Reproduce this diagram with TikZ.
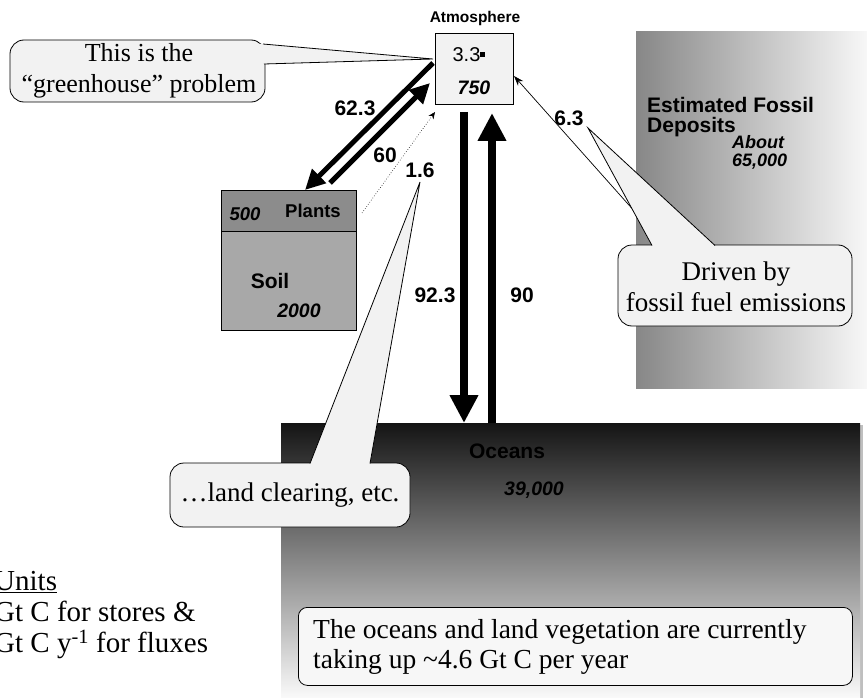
\documentclass[tikz,border=0pt]{standalone}
\usepackage{fontspec}
\setmainfont{Liberation Serif}
\setsansfont{Liberation Sans}
\usetikzlibrary{arrows.meta,shadings}

\definecolor{callfill}{gray}{0.95}

\tikzset{
  lbl/.style={font=\sffamily\bfseries\fontsize{21}{22}\selectfont, inner sep=0pt},
  store/.style={font=\sffamily\bfseries\itshape\fontsize{19.5}{22}\selectfont, inner sep=0pt},
  note/.style={font=\fontsize{27}{31}\selectfont, align=center, inner sep=0pt},
  callbox/.style={draw=black, line width=0.8pt, fill=callfill, rounded corners=14pt},
  bigflux/.style={line width=5pt, -{Triangle[length=20pt,width=19pt]}},
  seaflux/.style={line width=8pt, -{Triangle[length=28pt,width=27pt]}},
  thinflux/.style={line width=0.7pt, -{Stealth[length=10pt,width=7pt]}},
}

\begin{document}
\begin{tikzpicture}[x=1pt,y=-1pt]
\useasboundingbox (0,0) rectangle (867,698);

% fossil deposit reservoir
\shade[left color=black!47, right color=black!3] (636,32) rectangle (867,388);
% ocean reservoir
\fill[black!25] (860,425) rectangle (863,698);
\shade[top color=black!92, middle color=black!42, bottom color=black!2] (281,423) rectangle (860,698);

% atmosphere store
\node[draw, line width=0.8pt, fill=black!5, minimum width=78pt, minimum height=71pt, inner sep=0pt] (atm) at (474,68.5) {};
\node[lbl, font=\sffamily\bfseries\fontsize{15.5}{17}\selectfont] (atmname) at (475,18) {Atmosphere};
\node[lbl, font=\sffamily\fontsize{20}{22}\selectfont] (atmrise) at (469,55) {3.3\raisebox{5pt}{\rule{5pt}{5pt}}};
\node[store] (atmval) at (474,88) {750};

% plants and soil stores
\node[draw, line width=0.8pt, fill=black!45, minimum width=135pt, minimum height=41pt, inner sep=0pt, anchor=north west] (plants) at (221,190) {};
\node[draw, line width=0.8pt, fill=black!34, minimum width=135pt, minimum height=99pt, inner sep=0pt, anchor=north west] (soil) at (221,231) {};
\node[store, font=\sffamily\bfseries\itshape\fontsize{18.5}{20}\selectfont] (plantval) at (245,214) {500};
\node[lbl, font=\sffamily\bfseries\fontsize{18.5}{20}\selectfont] (plantname) at (313,211) {Plants};
\node[lbl] (soilname) at (270,281) {Soil};
\node[store] (soilval) at (299,311) {2000};

% fossil and ocean labels
\node[lbl, align=left, anchor=west, font=\sffamily\bfseries\fontsize{21}{20}\selectfont] (fossname) at (647,117) {Estimated Fossil\\Deposits};
\node[store, align=left, anchor=west, font=\sffamily\bfseries\itshape\fontsize{18}{18}\selectfont] (fossval) at (732,152) {About\\65,000};
\node[lbl] (seaname) at (507,451) {Oceans};
\node[store] (seaval) at (534,490) {39,000};

% flux end points
\coordinate (resp) at (433,63);
\coordinate (respend) at (305,190);
\coordinate (photo) at (330,183);
\coordinate (photoend) at (430,83);
\coordinate (clear) at (362,213);
\coordinate (clearend) at (435,112);
\coordinate (down) at (464,112);
\coordinate (downend) at (464,423);
\coordinate (up) at (492,423);
\coordinate (upend) at (492,113);
\coordinate (burn) at (636,213);
\coordinate (burnend) at (514,76);

% fluxes
\draw[bigflux] (resp) -- (respend);
\draw[bigflux] (photo) -- (photoend);
\draw[line width=0.6pt, dotted, -{Stealth[length=7pt,width=6pt]}] (clear) -- (clearend);
\draw[seaflux] (down) -- (downend);
\draw[seaflux] (up) -- (upend);
\draw[thinflux] (burn) -- (burnend);

% flux labels
\node[lbl] (f623) at (355,108) {62.3};
\node[lbl] (f60) at (385,155) {60};
\node[lbl] (f16) at (420,170) {1.6};
\node[lbl] (f923) at (435,295) {92.3};
\node[lbl] (f90) at (522,295) {90};
\node[lbl] (f63) at (569,118) {6.3};

% callout: greenhouse problem
\coordinate (ghtip) at (433,59);
\coordinate (gha) at (263,44);
\coordinate (ghb) at (264,64);
\draw[callbox] (10,40) rectangle (265,102);
\fill[callfill] (ghtip) -- (gha) -- ([xshift=-5pt]gha) -- ([xshift=-5pt]ghb) -- (ghb) -- cycle;
\draw[line width=0.8pt] (gha) -- (ghtip) -- (ghb);
\node[note, font=\fontsize{26}{31}\selectfont] (ghtext) at (139,71) {This is the\\``greenhouse'' problem};

% callout: fossil fuel emissions
\coordinate (fftip) at (588,128);
\coordinate (ffa) at (652,245.5);
\coordinate (ffb) at (715,245.5);
\draw[callbox] (618,245) rectangle (852,326);
\fill[callfill] (fftip) -- (ffa) -- ([yshift=-5pt]ffa) -- ([yshift=-5pt]ffb) -- (ffb) -- cycle;
\draw[line width=0.8pt] (ffa) -- (fftip) -- (ffb);
\node[note] (fftext) at (736,287) {Driven by\\fossil fuel emissions};

% callout: land clearing
\coordinate (lctip) at (420,182);
\coordinate (lca) at (310,463.5);
\coordinate (lcb) at (370,463.5);
\draw[callbox] (170,463) rectangle (410,527);
\fill[callfill] (lctip) -- (lca) -- ([yshift=-5pt]lca) -- ([yshift=-5pt]lcb) -- (lcb) -- cycle;
\draw[line width=0.8pt] (lca) -- (lctip) -- (lcb);
\node[note] (lctext) at (290,495) {\ldots land clearing, etc.};

% uptake note
\node[draw, line width=0.8pt, fill=black!3, rounded corners=9pt, minimum width=554pt, minimum height=78pt, anchor=north west] (uptake) at (298,607) {};
\node[note, align=left, anchor=west, font=\fontsize{27.5}{30}\selectfont] (uptaketext) at (313,647) {The oceans and land vegetation are currently\\taking up \textasciitilde4.6 Gt C per year};

% units legend
\node[note, align=left, anchor=north west, font=\fontsize{29}{31}\selectfont] (units) at (-6,571) {\underline{Units}\\Gt C for stores \&\\Gt C y\textsuperscript{-1} for fluxes};
\end{tikzpicture}
\end{document}
